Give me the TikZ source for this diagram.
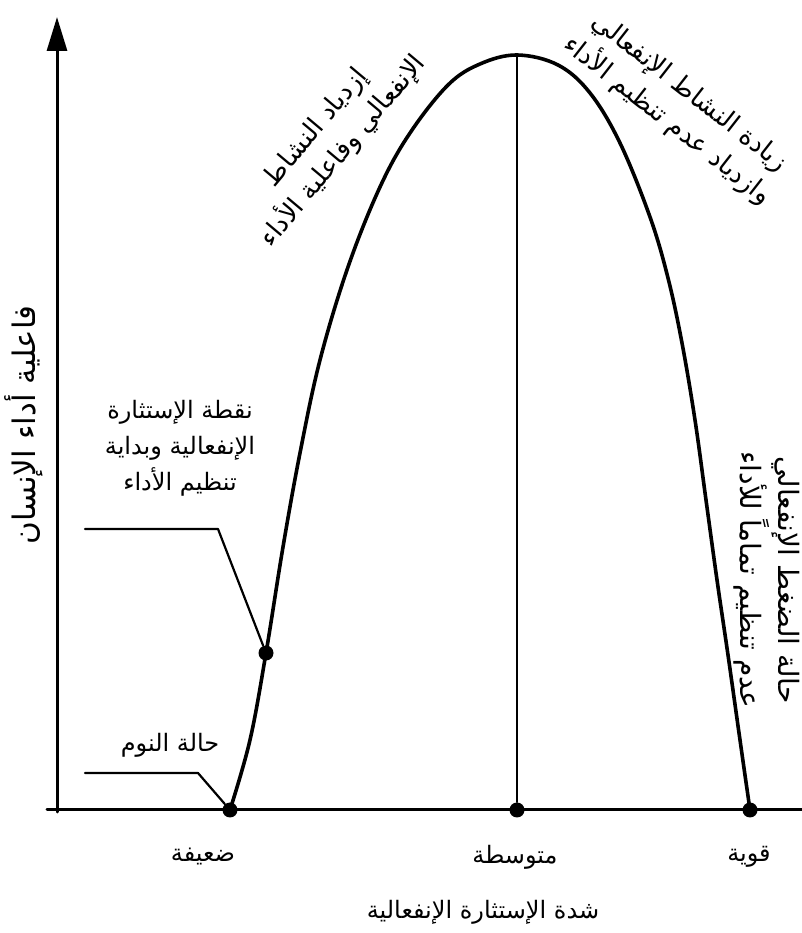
\documentclass[tikz,border=0pt]{standalone}
\usepackage{fontspec}
\newfontfamily\arabicfont[Script=Arabic]{DejaVu Sans}
\TeXXeTstate=1
\usetikzlibrary{arrows.meta}
\newcommand{\artxt}[1]{{\arabicfont\beginR #1\endR}}

\begin{document}
\begin{tikzpicture}[x=0.5pt,y=0.5pt,line cap=round,line join=round,
  font=\fontsize{12}{18}\selectfont,
  axis/.style={line width=1.5pt,black},
  curve/.style={line width=1.8pt,black},
  lead/.style={line width=1.1pt,black},
  dot/.style={circle,fill=black,inner sep=0pt,minimum size=7.5pt},
  lbl/.style={align=center,inner sep=1pt}]
\useasboundingbox (0,0) rectangle (802,933);
% axes
\coordinate (ybase) at (57,121);
\coordinate (ytip) at (57,916);
\coordinate (xstart) at (47,123);
\coordinate (xend) at (802,123);
\draw[axis,-{Triangle[length=17pt,width=10pt]}] (ybase) -- (ytip);
\draw[axis] (xstart) -- (xend);
% performance curve
\draw[curve] plot[smooth,tension=0.6] coordinates {(230,123) (250,193) (266,280)
  (283,386) (300,480) (320,573) (348,666) (380,746) (410,800) (448,848) (480,869)
  (517,878) (558,868) (590,840) (620,790) (650,716) (668,655) (682,590) (695,513)
  (706,433) (717,353) (728,278) (740,193) (750,123)};
\coordinate (peak) at (517,878);
\node[dot] (weak) at (230,123) {};
\node[dot] (mid) at (517,123) {};
\node[dot] (strong) at (750,123) {};
\node[dot] (arousal) at (266,280) {};
\draw[lead] (mid) -- (peak);
% leaders
\coordinate (sleepA) at (85,160);
\coordinate (sleepB) at (198,160);
\draw[lead] (sleepA) -- (sleepB) -- (weak);
\coordinate (arousalA) at (85,404);
\coordinate (arousalB) at (218,404);
\draw[lead] (arousalA) -- (arousalB) -- (arousal);
% labels
\node[lbl] (sleeplbl) at (170,188) {\artxt{حالة النوم}};
\node[lbl] (arousallbl) at (180,485) {\artxt{نقطة الإستثارة}\\\artxt{الإنفعالية وبداية}\\\artxt{تنظيم الأداء}};
\node[lbl] (weaklbl) at (203,76) {\artxt{ضعيفة}};
\node[lbl] (midlbl) at (515,76) {\artxt{متوسطة}};
\node[lbl] (stronglbl) at (749,76) {\artxt{قوية}};
\node[lbl] (xtitle) at (483,21) {\artxt{شدة الإستثارة الإنفعالية}};
\node[lbl,rotate=90,font=\fontsize{15.5}{18}\selectfont] (ytitle) at (24,508) {\artxt{فاعلية أداء الإنسان}};
\node[lbl,rotate=50,font=\fontsize{13}{18}\selectfont] (risinglbl) at (330,793) {\artxt{إزدياد النشاط}\\\artxt{الإنفعالي وفاعلية الأداء}};
\node[lbl,rotate=-38,font=\fontsize{13}{18}\selectfont] (fallinglbl) at (678,826) {\artxt{زيادة النشاط الإنفعالي}\\\artxt{وازدياد عدم تنظيم الأداء}};
\node[lbl,rotate=-90,font=\fontsize{14}{15}\selectfont] (stresslbl) at (767,353) {\artxt{حالة الضغط الإنفعالي}\\\artxt{عدم تنظيم تماماً للأداء}};
\end{tikzpicture}
\end{document}
